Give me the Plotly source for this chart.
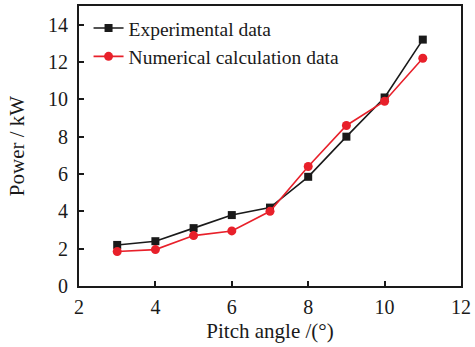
import plotly.graph_objects as go

pitch = [3, 4, 5, 6, 7, 8, 9, 10, 11]
experimental = [2.2, 2.4, 3.1, 3.8, 4.2, 5.85, 8.0, 10.1, 13.2]
numerical = [1.85, 1.95, 2.7, 2.95, 4.0, 6.4, 8.6, 9.9, 12.2]

fig = go.Figure()
fig.add_trace(go.Scatter(x=pitch, y=experimental, mode="lines+markers",
                         name="Experimental data",
                         line=dict(color="#1a1a1a", width=1.6),
                         marker=dict(symbol="square", size=8, color="#1a1a1a")))
fig.add_trace(go.Scatter(x=pitch, y=numerical, mode="lines+markers",
                         name="Numerical calculation data",
                         line=dict(color="#e8202a", width=1.6),
                         marker=dict(symbol="circle", size=9, color="#e8202a")))

font = "Liberation Serif, Times New Roman, serif"
axis_common = dict(showline=True, linecolor="#1a1a1a", linewidth=2, mirror=True,
                   ticks="inside", ticklen=5, tickwidth=1.5, tickcolor="#1a1a1a",
                   showgrid=False, zeroline=False,
                   tickfont=dict(family=font, size=20, color="#1a1a1a"))
fig.update_xaxes(range=[2, 12], dtick=2, ticklabelstandoff=2,
                 title=dict(text="Pitch angle /(°)", font=dict(family=font, size=21, color="#1a1a1a"), standoff=6),
                 **axis_common)
fig.update_yaxes(range=[0, 15], tickvals=[0, 2, 4, 6, 8, 10, 12, 14], ticklabelstandoff=5,
                 title=dict(text="Power / kW", font=dict(family=font, size=21, color="#1a1a1a"), standoff=18),
                 **axis_common)
fig.update_layout(width=475, height=347, margin=dict(l=79, r=13, t=4, b=61),
                  plot_bgcolor="white", paper_bgcolor="white",
                  showlegend=True,
                  legend=dict(x=0.025, y=0.99, xanchor="left", yanchor="top",
                              bgcolor="rgba(0,0,0,0)", tracegroupgap=0,
                              font=dict(family=font, size=19.5, color="#1a1a1a")))
fig.write_html("out.html")
